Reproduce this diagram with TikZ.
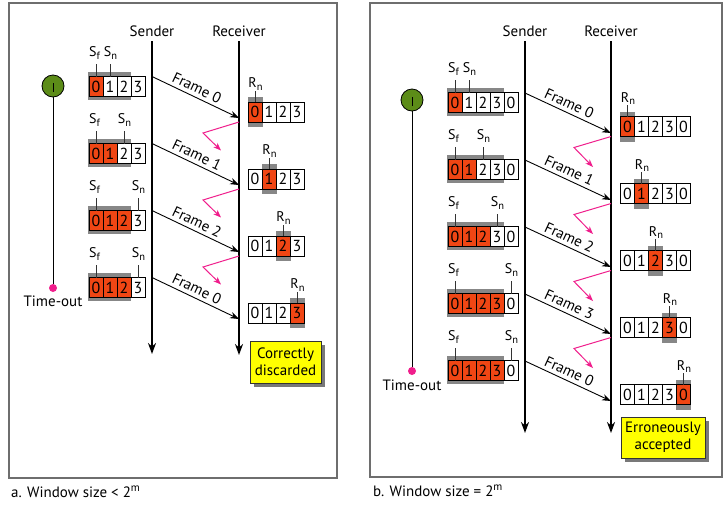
\documentclass[tikz,border=0pt]{standalone}
\usepackage{fontspec}
\setmainfont{PT Sans}
\usetikzlibrary{arrows.meta}
\definecolor{cellred}{RGB}{240,70,20}
\definecolor{shadegray}{RGB}{135,135,135}
\definecolor{timergreen}{RGB}{92,140,24}
\definecolor{ackpink}{RGB}{240,30,140}
\definecolor{panelgray}{RGB}{110,110,110}
\definecolor{noteyellow}{RGB}{255,255,0}
\definecolor{shadowgray}{RGB}{120,120,120}

\newcommand\subl[2]{#1\raisebox{-2.6pt}{\fontsize{10.5}{11}\selectfont #2}}

\tikzset{
  panel/.style={draw=panelgray, line width=1.2pt},
  cellbox/.style={draw=black, line width=0.6pt},
  digit/.style={inner sep=0pt, font=\fontsize{16}{16}\selectfont},
  tickline/.style={draw=black!80, line width=0.6pt},
  lbl/.style={anchor=base, inner sep=0pt, font=\fontsize{14}{15}\selectfont},
  head/.style={font=\fontsize{15}{16}\selectfont, inner sep=0pt},
  life/.style={draw=black, line width=2.2pt, -{Stealth[length=11pt,width=8pt]}},
  msg/.style={draw=black, line width=0.9pt, -{Stealth[length=9pt,width=6.5pt]}},
  msglbl/.style={font=\fontsize{15}{16}\selectfont, sloped, above, inner sep=3.5pt},
  ack/.style={draw=ackpink, line width=1pt, -{Stealth[length=8pt,width=6pt]}},
  timer/.style={draw=black, line width=0.8pt, fill=timergreen},
  note/.style={draw=black!80, line width=0.8pt, fill=noteyellow, align=center,
    font=\fontsize{15}{17}\selectfont, inner sep=0pt},
  caption/.style={anchor=west, font=\fontsize{15}{16}\selectfont, inner sep=0pt}
}

% sender window: name, x, y, digits, nred, ngray, sf index, sn index
\newcommand\swin[8]{%
  \fill[shadegray] ({#2-1.5},{#3-14.5}) rectangle ({#2+14*#6},{#3+13.5});
  \foreach \d [count=\i from 0] in {#4} {%
    \pgfmathtruncatemacro\isred{\i<#5 ? 1 : 0}%
    \ifnum\isred=1 \def\cf{cellred}\else\def\cf{white}\fi
    \draw[cellbox, fill=\cf] ({#2+14*\i},{#3-10}) rectangle ({#2+14*\i+14},{#3+10});
    \coordinate (#1-\i-top) at ({#2+14*\i+7},{#3-10});
    \node[digit] (#1-\i) at ({#2+14*\i+7},#3) {\d};
  }
  \draw[tickline] (#1-#7-top) -- ++(0,-12.5) coordinate (#1-sft);
  \draw[tickline] (#1-#8-top) -- ++(0,-12.5) coordinate (#1-snt);
  \node[lbl] (#1-sf) at ([yshift=7.5pt,xshift=-1.5pt]#1-sft) {\subl{S}{f}};
  \node[lbl] (#1-sn) at ([yshift=7.5pt,xshift=0.5pt]#1-snt) {\subl{S}{n}};
}
% receiver window: name, x, y, digits, k
\newcommand\rwin[5]{%
  \fill[shadegray] ({#2+14*#5-0.5},{#3-15}) rectangle ({#2+14*#5+14.5},{#3+15});
  \foreach \d [count=\i from 0] in {#4} {%
    \ifnum\i=#5 \def\cf{cellred}\else\def\cf{white}\fi
    \draw[cellbox, fill=\cf] ({#2+14*\i},{#3-10}) rectangle ({#2+14*\i+14},{#3+10});
    \coordinate (#1-\i-top) at ({#2+14*\i+7},{#3-10});
    \node[digit] (#1-\i) at ({#2+14*\i+7},#3) {\d};
  }
  \draw[tickline] (#1-#5-top) -- ++(0,-11.5) coordinate (#1-rnt);
  \node[lbl] (#1-rn) at ([yshift=3pt,xshift=0.5pt]#1-rnt) {\subl{R}{n}};
}

\begin{document}
\begin{tikzpicture}[x=1pt,y=-1pt]
\useasboundingbox (0,0) rectangle (728,507);
\fill[white] (0,0) rectangle (728,507);

%================ LEFT PANEL ================
\draw[panel] (9,3) rectangle (337,478);
\node[head] (lsnd) at (152,31) {Sender};
\node[head] (lrcv) at (239,31) {Receiver};
\coordinate (lsndtop) at (152,41);
\coordinate (lsndbot) at (152,354);
\coordinate (lrcvtop) at (239,41);
\coordinate (lrcvbot) at (239,355);
\draw[life] (lsndtop) -- (lsndbot);
\draw[life] (lrcvtop) -- (lrcvbot);

% timer
\node[timer, circle, minimum size=22pt, inner sep=0pt] (ltimer) at (53,86) {};
\draw[line width=0.9pt] ([yshift=3pt]ltimer.center) -- ([yshift=-6pt]ltimer.center);
\node[circle, fill=ackpink, minimum size=8pt, inner sep=0pt] (ldot) at (53,288) {};
\draw[line width=1pt] (ltimer.south) -- (ldot.north);
\node[head] (lto) at (53,301.5) {Time-out};

% sender windows
\swin{ls1}{89}{86.5}{0,1,2,3}{1}{3}{0}{1}
\swin{ls2}{89}{153.5}{0,1,2,3}{2}{3}{0}{2}
\swin{ls3}{89}{220.5}{0,1,2,3}{3}{3}{0}{3}
\swin{ls4}{89}{287.5}{0,1,2,3}{3}{3}{0}{3}

% receiver windows
\rwin{lr1}{248}{112}{0,1,2,3}{0}
\rwin{lr2}{248}{179}{0,1,2,3}{1}
\rwin{lr3}{248}{246}{0,1,2,3}{2}
\rwin{lr4}{248}{313}{0,1,2,3}{3}

% frames
\foreach \c/\f [count=\k] in {86.5/0,153.5/1,220.5/2,287.5/0} {
  \coordinate (lfs\k) at (152,\c-10);
  \coordinate (lfe\k) at (239,\c+31.5);
  \draw[msg] (lfs\k) -- node[msglbl, pos=0.47] {Frame \f} (lfe\k);
}
% lost acks
\foreach \c [count=\k] in {86.5,153.5,220.5} {
  \coordinate (las\k) at (239,\c+35.5);
  \coordinate (lam\k) at (203,\c+46.5);
  \coordinate (lae\k) at (221,\c+64);
  \draw[ack] (las\k) -- (lam\k) -- (lae\k);
}

% note
\fill[shadowgray] (253.5,344.5) rectangle (324.5,386.5);
\node[note, minimum width=71pt, minimum height=42pt] (lnote) at (285.5,362) {Correctly\\discarded};

\node[caption] (lcap) at (11,492) {a. Window size < 2\raisebox{5.5pt}{\fontsize{11}{11}\selectfont m}};

%================ RIGHT PANEL ================
\draw[panel] (370,3) rectangle (722,477);
\node[head] (rsnd) at (525,31) {Sender};
\node[head] (rrcv) at (611,31) {Receiver};
\coordinate (rsndtop) at (525,41);
\coordinate (rsndbot) at (525,433);
\coordinate (rrcvtop) at (611,41);
\coordinate (rrcvbot) at (611,433);
\draw[life] (rsndtop) -- (rsndbot);
\draw[life] (rrcvtop) -- (rrcvbot);

\node[timer, circle, minimum size=22pt, inner sep=0pt] (rtimer) at (412,100) {};
\draw[line width=0.9pt] ([yshift=3pt]rtimer.center) -- ([yshift=-6pt]rtimer.center);
\node[circle, fill=ackpink, minimum size=8pt, inner sep=0pt] (rdot) at (412,371) {};
\draw[line width=1pt] (rtimer.south) -- (rdot.north);
\node[head] (rto) at (412,385.5) {Time-out};

\swin{rs1}{448}{102.5}{0,1,2,3,0}{1}{4}{0}{1}
\swin{rs2}{448}{169.5}{0,1,2,3,0}{2}{4}{0}{2}
\swin{rs3}{448}{236.5}{0,1,2,3,0}{3}{4}{0}{3}
\swin{rs4}{448}{303.5}{0,1,2,3,0}{4}{4}{0}{4}
\swin{rs5}{448}{370.5}{0,1,2,3,0}{4}{4}{0}{4}

\rwin{rr1}{620.5}{126.5}{0,1,2,3,0}{0}
\rwin{rr2}{620.5}{193.5}{0,1,2,3,0}{1}
\rwin{rr3}{620.5}{260.5}{0,1,2,3,0}{2}
\rwin{rr4}{620.5}{327.5}{0,1,2,3,0}{3}
\rwin{rr5}{620.5}{394.5}{0,1,2,3,0}{4}

\foreach \c/\f [count=\k] in {102.5/0,169.5/1,236.5/2,303.5/3,370.5/0} {
  \coordinate (rfs\k) at (525,\c-9.5);
  \coordinate (rfe\k) at (611,\c+30.5);
  \draw[msg] (rfs\k) -- node[msglbl, pos=0.47] {Frame \f} (rfe\k);
}
\foreach \c [count=\k] in {102.5,169.5,236.5,303.5} {
  \coordinate (ras\k) at (611,\c+34);
  \coordinate (ram\k) at (574,\c+45);
  \coordinate (rae\k) at (593,\c+64.5);
  \draw[ack] (ras\k) -- (ram\k) -- (rae\k);
}

\fill[shadowgray] (624.5,420.5) rectangle (708.5,461.5);
\node[note, minimum width=84pt, minimum height=41pt] (rnote) at (663,437.5) {Erroneously\\accepted};

\node[caption] (rcap) at (373,491) {b. Window size = 2\raisebox{5.5pt}{\fontsize{11}{11}\selectfont m}};
\end{tikzpicture}
\end{document}
